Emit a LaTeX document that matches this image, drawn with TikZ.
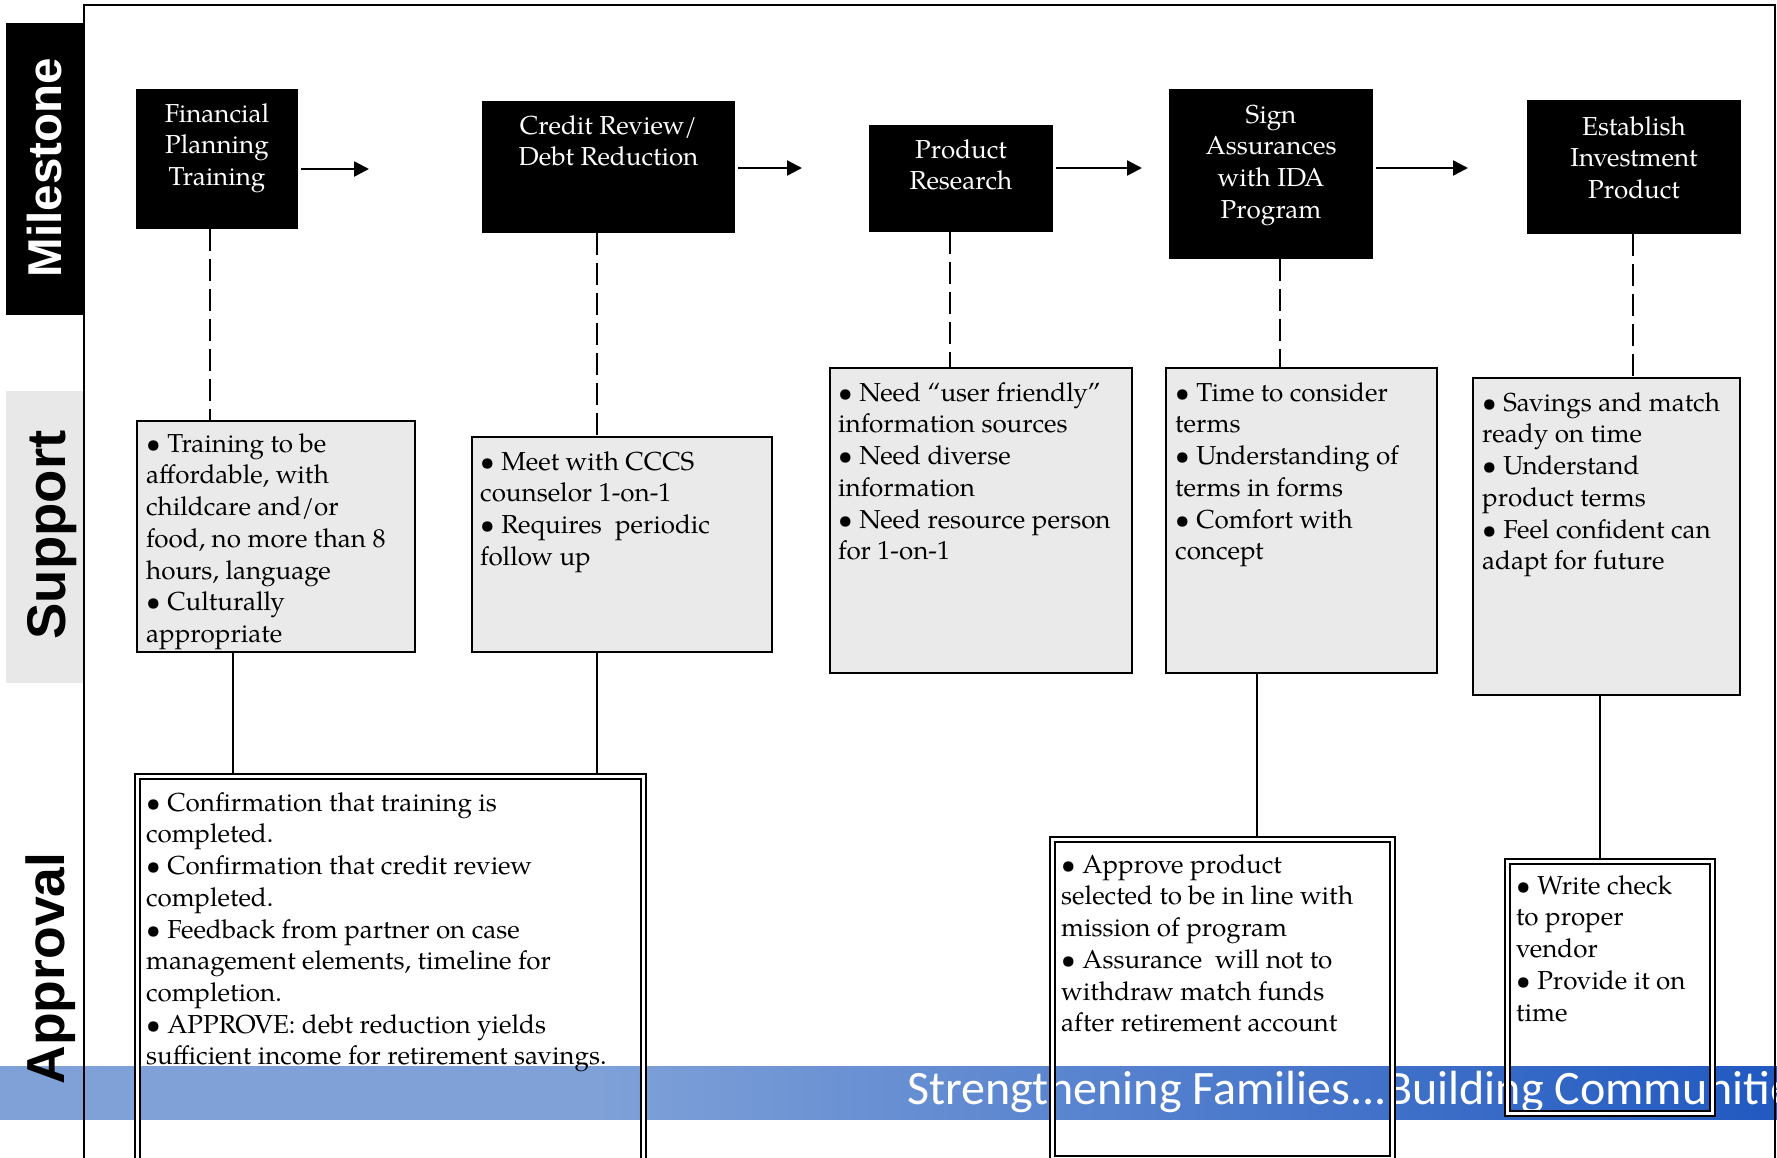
\documentclass[tikz,border=0pt]{standalone}
\usepackage{fontspec}
\setmainfont{TeX Gyre Pagella}
\newfontfamily\lanefont{Liberation Sans}
\newfontfamily\bandfont{Carlito}
\usetikzlibrary{arrows.meta}
\definecolor{supgray}{RGB}{234,234,234}
\definecolor{labgray}{RGB}{232,232,232}
\definecolor{bandA}{RGB}{127,161,216}
\definecolor{bandB}{RGB}{33,89,193}
\pgfdeclarehorizontalshading{bandshade}{100bp}{color(0bp)=(bandA); color(41.8bp)=(bandA); color(75bp)=(bandB); color(100bp)=(bandB)}
\newcommand{\fstrut}{\rule{0pt}{19pt}}
\begin{document}
\begin{tikzpicture}[x=1pt,y=-1pt,
  mbox/.style={fill=black, inner sep=0pt, outer sep=0pt, anchor=north west},
  mtext/.style={anchor=north, align=center, text=white, inner sep=0pt, font=\fontsize{26}{31.7}\selectfont},
  sbox/.style={draw, line width=2.3pt, fill=supgray, inner sep=0pt, outer sep=0pt, anchor=north west},
  btext/.style={anchor=north west, align=left, inner sep=0pt, font=\fontsize{26}{31.7}\selectfont},
  abox/.style={draw, double, double distance=3.3pt, line width=1.7pt, inner sep=0pt, outer sep=0pt, anchor=north west},
  lane/.style={rotate=90, anchor=base, inner sep=0pt},
  dashline/.style={line width=2pt, dash pattern=on 22pt off 8pt},
  conn/.style={line width=2pt},
  arr/.style={line width=2.4pt, -{Triangle[length=15pt,width=15pt]}, shorten <=3pt}
]
\useasboundingbox (0,0) rectangle (1777,1157);

% bottom band
\shade[shading=bandshade] (0,1066) rectangle (1777,1119);
\begin{scope}
  \clip (0,1066) rectangle (1777,1119);
  \node[anchor=base west, inner sep=0pt, text=white, font=\bandfont\fontsize{48}{50}\selectfont] (band) at (907,1104) {Strengthening Families...Building Communities};
\end{scope}

% lane labels
\node[fill=black, minimum width=78pt, minimum height=292pt, anchor=north west, inner sep=0pt, outer sep=0pt] (lm) at (6,23) {};
\node[lane, text=white, font=\lanefont\bfseries\fontsize{47.5}{50}\selectfont] (lmt) at (61,167.5) {Milestone};
\node[fill=labgray, minimum width=78pt, minimum height=292pt, anchor=north west, inner sep=0pt, outer sep=0pt] (ls) at (6,391) {};
\node[lane, font=\lanefont\bfseries\fontsize{54.5}{56}\selectfont] (lst) at (65,535) {Support};
\node[lane, font=\lanefont\bfseries\fontsize{53.5}{56}\selectfont] (lat) at (64,968.5) {Approval};

% frame
\draw[line width=2pt] (84,1170) -- (84,5) -- (1775,5) -- (1775,1170);

% milestone boxes
\node[mbox, minimum width=162pt, minimum height=140pt] (m1) at (136,89) {};
\node[mbox, minimum width=253pt, minimum height=132pt] (m2) at (482,101) {};
\node[mbox, minimum width=184pt, minimum height=107pt] (m3) at (869,125) {};
\node[mbox, minimum width=204pt, minimum height=170pt] (m4) at (1169,89) {};
\node[mbox, minimum width=214pt, minimum height=134pt] (m5) at (1527,100) {};
\node[mtext] (m1t) at (217,103) {\fstrut Financial\\Planning\\Training};
\node[mtext] (m2t) at (608.5,115) {\fstrut Credit Review/\\Debt Reduction};
\node[mtext] (m3t) at (961,139) {\fstrut Product\\Research};
\node[mtext] (m4t) at (1271,104) {\fstrut Sign\\Assurances\\with IDA\\Program};
\node[mtext] (m5t) at (1634,116) {\fstrut Establish\\Investment\\Product};

% arrows between milestones
\coordinate (e1) at (369,169);
\coordinate (e2) at (802,168);
\coordinate (e3) at (1142,168);
\coordinate (e4) at (1468,168);
\draw[arr] (m1.east |- e1) -- (e1);
\draw[arr] (m2.east |- e2) -- (e2);
\draw[arr] (m3.east |- e3) -- (e3);
\draw[arr] (m4.east |- e4) -- (e4);

% support boxes
\node[sbox, minimum width=278pt, minimum height=231pt] (s1) at (137,421) {};
\node[sbox, minimum width=300pt, minimum height=215pt] (s2) at (472,437) {};
\node[sbox, minimum width=302pt, minimum height=305pt] (s3) at (830,368) {};
\node[sbox, minimum width=271pt, minimum height=305pt] (s4) at (1166,368) {};
\node[sbox, minimum width=267pt, minimum height=317pt] (s5) at (1473,378) {};
\node[btext] (s1t) at (146,433) {\fstrut\textbullet\ Training to be\\affordable, with\\childcare and/or\\food, no more than 8\\hours, language\\\textbullet\ Culturally\\appropriate};
\node[btext] (s2t) at (480,451) {\fstrut\textbullet\ Meet with CCCS\\counselor 1-on-1\\\textbullet\ Requires~ periodic\\follow up};
\node[btext] (s3t) at (838,382) {\fstrut\textbullet\ Need “user friendly”\\information sources\\\textbullet\ Need diverse\\information\\\textbullet\ Need resource person\\for 1-on-1};
\node[btext] (s4t) at (1175,382) {\fstrut\textbullet\ Time to consider\\terms\\\textbullet\ Understanding of\\terms in forms\\\textbullet\ Comfort with\\concept};
\node[btext] (s5t) at (1482,392) {\fstrut\textbullet\ Savings and match\\ready on time\\\textbullet\ Understand\\product terms\\\textbullet\ Feel confident can\\adapt for future};

% dashed connectors milestone -> support
\coordinate (d1) at (210,0);
\coordinate (d2) at (597,0);
\coordinate (d3) at (950,0);
\coordinate (d4) at (1280,0);
\coordinate (d5) at (1633,0);
\draw[dashline] (m1.south -| d1) -- (s1.north -| d1);
\draw[dashline] (m2.south -| d2) -- (s2.north -| d2);
\draw[dashline] (m3.south -| d3) -- (s3.north -| d3);
\draw[dashline] (m4.south -| d4) -- (s4.north -| d4);
\draw[dashline] (m5.south -| d5) -- (s5.north -| d5);

% approval boxes
\node[abox, minimum width=506pt, minimum height=400pt] (a1) at (137.5,776.5) {};
\node[abox, minimum width=340pt, minimum height=319pt] (a2) at (1052.5,839.5) {};
\node[abox, minimum width=205pt, minimum height=252pt] (a3) at (1507.5,861.5) {};
\node[btext] (a1t) at (146,792) {\fstrut\textbullet\ Confirmation that training is\\completed.\\\textbullet\ Confirmation that credit review\\completed.\\\textbullet\ Feedback from partner on case\\management elements, timeline for\\completion.\\\textbullet\ APPROVE: debt reduction yields\\sufficient income for retirement savings.};
\node[btext] (a2t) at (1061,854) {\fstrut\textbullet\ Approve product\\selected to be in line with\\mission of program\\\textbullet\ Assurance~ will not to\\withdraw match funds\\after retirement account};
\node[btext] (a3t) at (1516,875) {\fstrut\textbullet\ Write check\\to proper\\vendor\\\textbullet\ Provide it on\\time};

% solid connectors support -> approval
\coordinate (c1) at (233,0);
\coordinate (c2) at (597,0);
\coordinate (c4) at (1257,0);
\coordinate (c5) at (1600,0);
\draw[conn, shorten >=2.5pt] (s1.south -| c1) -- (a1.north -| c1);
\draw[conn, shorten >=2.5pt] (s2.south -| c2) -- (a1.north -| c2);
\draw[conn, shorten >=2.5pt] (s4.south -| c4) -- (a2.north -| c4);
\draw[conn, shorten >=2.5pt] (s5.south -| c5) -- (a3.north -| c5);
\end{tikzpicture}
\end{document}
